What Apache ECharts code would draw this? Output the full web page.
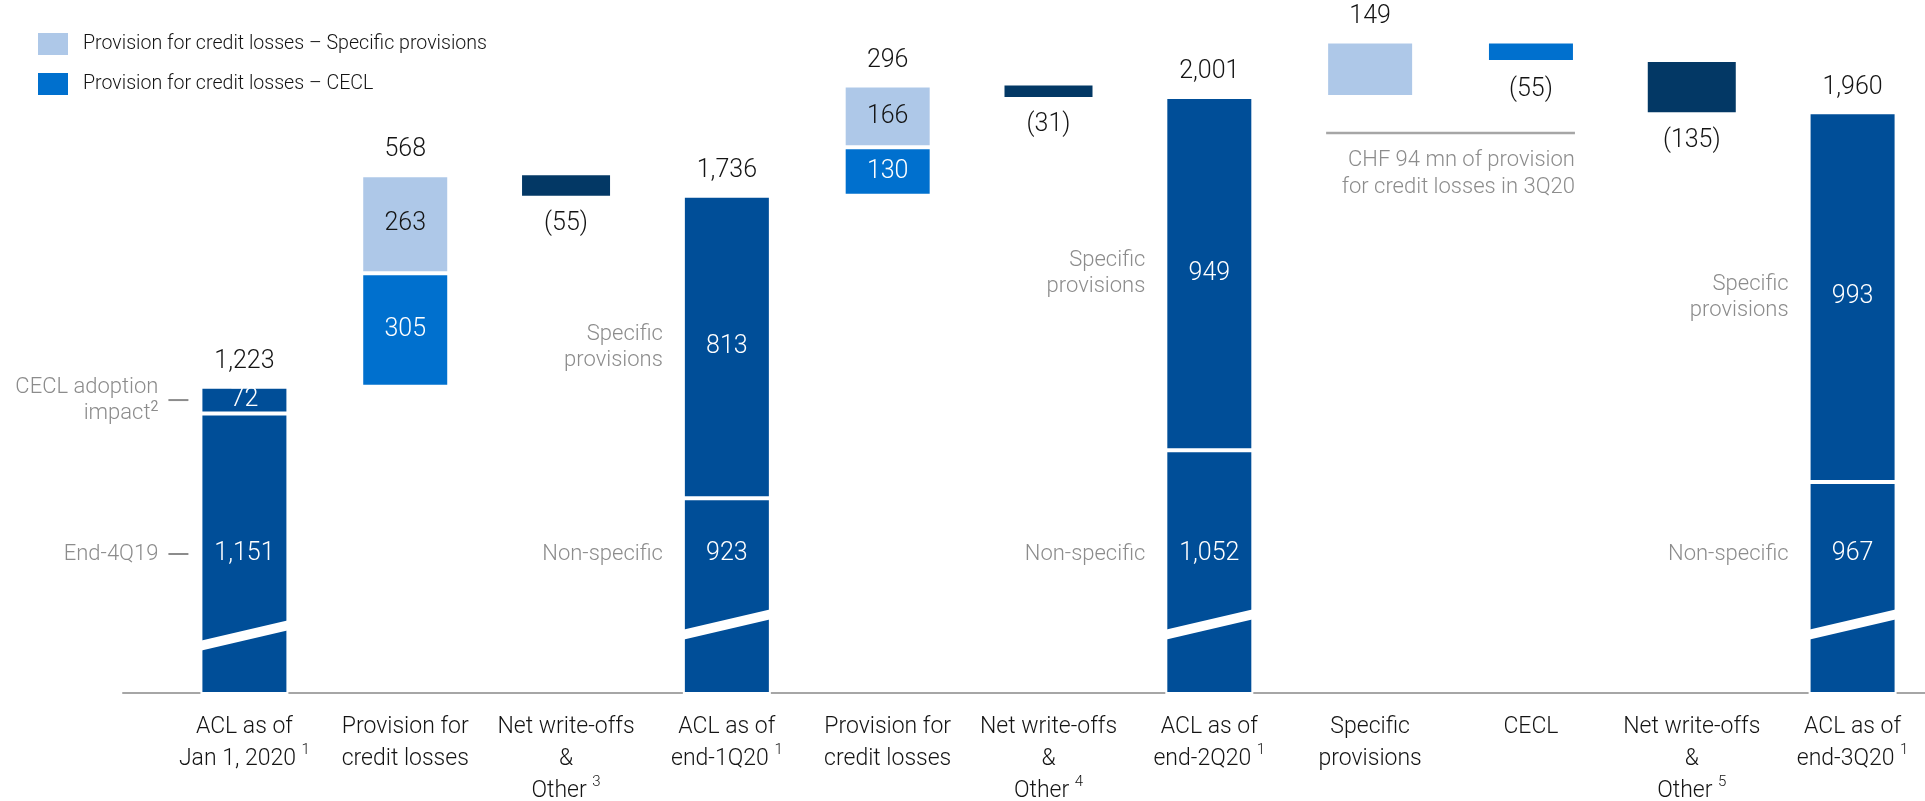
<!DOCTYPE html>
<html lang="en">
<head>
<meta charset="UTF-8">
<title>Allowance for credit losses roll-forward</title>
<style>
  html, body { margin: 0; padding: 0; background: #fff; }
  #main { width: 1925px; height: 801px; }
</style>
</head>
<body>
<div id="main"></div>
<script src="https://cdn.jsdelivr.net/npm/echarts@6/dist/echarts.min.js"></script>
<script>
// x axis categories, footnote marks kept apart
var categories = [
    'ACL as of\nJan 1, 2020', 'Provision for\ncredit losses', 'Net write-offs\n&\nOther',
    'ACL as of\nend-1Q20', 'Provision for\ncredit losses', 'Net write-offs\n&\nOther',
    'ACL as of\nend-2Q20', 'Specific\nprovisions', 'CECL', 'Net write-offs\n&\nOther',
    'ACL as of\nend-3Q20'
];
var footnotes = ['1', '', '3', '1', '', '4', '1', '', '', '5', '1'];

// values, CHF mn
var aclNonSpecific = [1151, '-', '-', 923, '-', '-', 1052, '-', '-', '-', 967];
var aclSpecific    = [72, '-', '-', 813, '-', '-', 949, '-', '-', '-', 993];
var provSpecific   = ['-', 263, '-', '-', 166, '-', '-', 149, '-', '-', '-'];
var provCecl       = ['-', 305, '-', '-', 130, '-', '-', '-', -55, '-', '-'];
var writeOffs      = ['-', '-', -55, '-', '-', -31, '-', '-', '-', -135, '-'];

// grey notes next to the ACL bars
var notesUpper = ['CECL adoption\nimpact{sup|2}', '', '', 'Specific\nprovisions', '', '', 'Specific\nprovisions', '', '', '', 'Specific\nprovisions'];
var notesLower = ['End-4Q19', '', '', 'Non-specific', '', '', 'Non-specific', '', '', '', 'Non-specific'];
var dashedNotes = [0];
var bracketCats = [7, 8];
var bracketNote = 'CHF 94 mn of provision\nfor credit losses in 3Q20';

var FONT = 'Roboto, "Liberation Sans", sans-serif';
var C_ACL = '#004E98', C_CECL = '#0070CE', C_SPEC = '#AEC8E8', C_WO = '#033865';
var GREY = '#8C8C8C', INK = '#141414', AXIS = '#A6A6A6';
var BAR_W = 88;
var Y_MIN = 400, Y_MAX = 2200;
var NAME_SPEC = 'Provision for credit losses \u2013 Specific provisions';
var NAME_CECL = 'Provision for credit losses \u2013 CECL';

function num(v) { return v === '-' ? 0 : v; }
function fmt(v) { return Math.abs(v).toLocaleString('en-US'); }
function absArr(a) { return a.map(function (v) { return v === '-' ? '-' : Math.abs(v); }); }
function isAcl(i) { return aclNonSpecific[i] !== '-'; }

// waterfall: invisible base, bar bottom/top and the change shown
var base = [], barBottom = [], barTop = [], change = [];
var running = 0;
categories.forEach(function (c, i) {
    if (isAcl(i)) {
        running = aclNonSpecific[i] + aclSpecific[i];
        base.push('-'); barBottom.push(0); barTop.push(running); change.push(running);
    } else {
        var d = num(provSpecific[i]) + num(provCecl[i]) + num(writeOffs[i]);
        var lo = d > 0 ? running : running + d;
        base.push(lo); barBottom.push(lo); barTop.push(lo + Math.abs(d)); change.push(d);
        running += d;
    }
});

function txt(s, x, y, align, color, size, lh, extra) {
    var st = {
        text: s, align: align, verticalAlign: 'middle', fill: color,
        fontSize: size, fontFamily: FONT, fontWeight: 300, lineHeight: lh || size + 3
    };
    return { type: 'text', x: x, y: y, style: Object.assign(st, extra || {}) };
}

var barStyle = function (c) { return { color: c, borderColor: '#fff', borderWidth: 2 }; };
var bothProv = function (i) { return provSpecific[i] !== '-' && provCecl[i] !== '-'; };
// height of the axis-break slash above the baseline (first bar sits a bit lower)
var breakLift = function (i) { return i === 0 ? 47 : 58; };

var myChart = echarts.init(document.getElementById('main'));
var option = {
    animation: false,
    grid: [
        { left: 164, width: 1769, top: 23, bottom: 108, outerBoundsMode: 'none' },
        { left: 123, right: 0, top: 23, bottom: 108, outerBoundsMode: 'none' }
    ],
    legend: {
        data: [NAME_SPEC, NAME_CECL],
        orient: 'vertical', left: 38, top: 33, padding: 0,
        itemWidth: 30, itemHeight: 22, itemGap: 18, icon: 'rect',
        itemStyle: { borderWidth: 0 },
        textStyle: { fontSize: 19.6, color: INK, fontFamily: FONT, fontWeight: 300, padding: [0, 0, 0, 10] }
    },
    xAxis: [{
        type: 'category',
        data: categories,
        axisTick: { show: false },
        axisLine: { show: false },
        axisLabel: {
            interval: 0, margin: 18, color: INK, fontSize: 23, lineHeight: 32,
            fontFamily: FONT, fontWeight: 300,
            formatter: function (v, idx) {
                return v + (footnotes[idx] ? ' {sup|' + footnotes[idx] + '}' : '');
            },
            rich: { sup: { fontSize: 15, lineHeight: 12, verticalAlign: 'top', color: INK, fontFamily: FONT } }
        }
    }, {
        // baseline, running a little further left than the first category
        gridIndex: 1, type: 'value', min: 0, max: 1,
        axisLine: { show: true, onZero: false, lineStyle: { color: AXIS, width: 2 } },
        axisTick: { show: false }, axisLabel: { show: false }, splitLine: { show: false }
    }],
    yAxis: [
        { type: 'value', min: Y_MIN, max: Y_MAX, show: false, splitLine: { show: false } },
        { gridIndex: 1, type: 'value', min: 0, max: 1, show: false }
    ],
    series: [
        { name: 'base', type: 'bar', stack: 'w', data: base, barWidth: BAR_W, silent: true,
          itemStyle: { color: 'transparent' } },
        { name: 'ACL non-specific', type: 'bar', stack: 'w', data: aclNonSpecific, barWidth: BAR_W,
          itemStyle: barStyle(C_ACL) },
        { name: 'ACL specific', type: 'bar', stack: 'w', data: aclSpecific, barWidth: BAR_W,
          itemStyle: barStyle(C_ACL),
          label: { show: true, position: 'inside', color: '#fff', fontSize: 25, fontFamily: FONT, fontWeight: 300,
                   formatter: function (p) { return fmt(p.value); } } },
        { name: NAME_CECL, type: 'bar', stack: 'w', data: absArr(provCecl), barWidth: BAR_W,
          itemStyle: barStyle(C_CECL),
          label: { show: true, position: 'inside', color: '#fff', fontSize: 25, fontFamily: FONT, fontWeight: 300,
                   formatter: function (p) { return bothProv(p.dataIndex) ? fmt(p.value) : ''; } } },
        { name: NAME_SPEC, type: 'bar', stack: 'w', data: provSpecific, barWidth: BAR_W,
          itemStyle: barStyle(C_SPEC),
          label: { show: true, position: 'inside', color: INK, fontSize: 25, fontFamily: FONT, fontWeight: 300,
                   formatter: function (p) { return bothProv(p.dataIndex) ? fmt(p.value) : ''; } } },
        { name: 'Net write-offs & Other', type: 'bar', stack: 'w', data: absArr(writeOffs), barWidth: BAR_W,
          itemStyle: { color: C_WO } },
        {
            // totals, bracketed decreases, breaks and grey notes
            type: 'custom', silent: true, z: 5,
            data: categories.map(function (c, i) { return [i, barTop[i], barBottom[i]]; }),
            encode: { x: 0, y: [1, 2] },
            renderItem: function (params, api) {
                var i = api.value(0);
                var pTop = api.coord([i, api.value(1)]);
                var pBot = api.coord([i, Math.max(api.value(2), Y_MIN)]);
                var axisY = api.coord([i, Y_MIN])[1];
                var cx = pTop[0], xl = cx - BAR_W / 2, xr = cx + BAR_W / 2;
                var kids = [];
                if (change[i] >= 0) {
                    kids.push(txt(fmt(change[i]), cx, pTop[1] - 25, 'center', INK, 25));
                } else {
                    kids.push(txt('(' + fmt(change[i]) + ')', cx, pBot[1] + 28, 'center', INK, 25));
                }
                if (isAcl(i)) {
                    var yl = axisY - breakLift(i), yr = yl - 21;
                    kids.push({ type: 'polygon', shape: { points: [[xl - 1, yl - 5], [xr + 1, yr - 5], [xr + 1, yr + 5], [xl - 1, yl + 5]] },
                                style: { fill: '#fff' } });
                    var yLow = axisY - 139;
                    kids.push(txt(fmt(aclNonSpecific[i]), cx, yLow, 'center', '#fff', 25));
                    var yUp = api.coord([i, aclNonSpecific[i] + aclSpecific[i] / 2])[1];
                    var dashed = dashedNotes.indexOf(i) >= 0;
                    var nx = dashed ? xl - 42 : xl - 20;
                    var rich = { sup: { fontSize: 14, lineHeight: 10, verticalAlign: 'top', fill: GREY, fontFamily: FONT } };
                    kids.push(txt(notesUpper[i], nx, yUp, 'right', GREY, 22, 26, { rich: rich }));
                    kids.push(txt(notesLower[i], nx, yLow, 'right', GREY, 22, 26));
                    if (dashed) {
                        [yUp, yLow].forEach(function (y) {
                            kids.push({ type: 'line', shape: { x1: xl - 32, y1: y, x2: xl - 12, y2: y },
                                        style: { stroke: GREY, lineWidth: 2 } });
                        });
                    }
                }
                return { type: 'group', children: kids };
            }
        },
        {
            // bracket under the 3Q20 provision split
            type: 'custom', silent: true, z: 5,
            data: [[bracketCats[0], barBottom[bracketCats[0]]]],
            encode: { x: 0, y: 1 },
            renderItem: function (params, api) {
                var p0 = api.coord([api.value(0), api.value(1)]);
                var p1 = api.coord([bracketCats[1], api.value(1)]);
                var x0 = p0[0] - BAR_W / 2, x1 = p1[0] + BAR_W / 2;
                var y = p0[1] + 36;
                return { type: 'group', children: [
                    { type: 'line', shape: { x1: x0, y1: y, x2: x1, y2: y }, style: { stroke: AXIS, lineWidth: 2.5 } },
                    { type: 'text', x: x1, y: y + 14, style: { text: bracketNote, align: 'right', verticalAlign: 'top',
                      fill: GREY, fontSize: 22, lineHeight: 27, fontFamily: FONT, fontWeight: 300 } }
                ] };
            }
        }
    ]
};
myChart.setOption(option);
</script>
</body>
</html>
